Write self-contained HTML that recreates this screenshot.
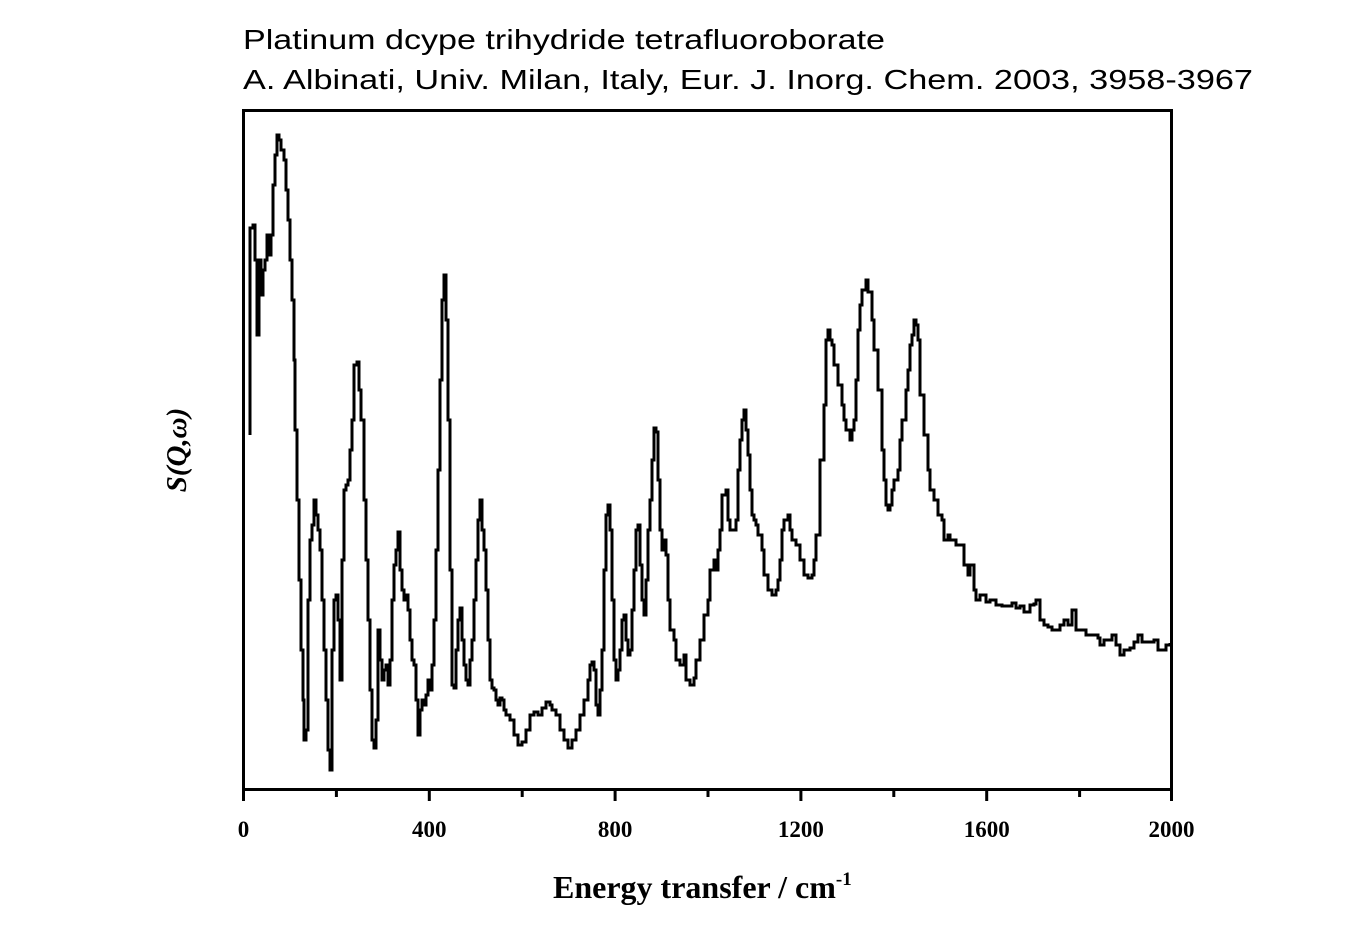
<!DOCTYPE html>
<html><head><meta charset="utf-8"><style>
body{margin:0;background:#fff;}
svg{display:block}
</style></head><body>
<svg width="1361" height="950" xmlns="http://www.w3.org/2000/svg">
<rect width="1361" height="950" fill="#fff"/>
<text x="243" y="49" font-family="Liberation Sans, sans-serif" font-size="28" textLength="642" lengthAdjust="spacingAndGlyphs">Platinum dcype trihydride tetrafluoroborate</text>
<text x="243" y="89" font-family="Liberation Sans, sans-serif" font-size="28" textLength="1010" lengthAdjust="spacingAndGlyphs">A. Albinati, Univ. Milan, Italy, Eur. J. Inorg. Chem. 2003, 3958-3967</text>
<rect x="243.5" y="110.5" width="928" height="679" fill="none" stroke="#000" stroke-width="3"/>
<g stroke="#000" stroke-width="3">
<line x1="243.5" y1="790" x2="243.5" y2="801"/><line x1="336.4" y1="790" x2="336.4" y2="797"/>
<line x1="429.3" y1="790" x2="429.3" y2="801"/><line x1="522.2" y1="790" x2="522.2" y2="797"/>
<line x1="615.1" y1="790" x2="615.1" y2="801"/><line x1="708" y1="790" x2="708" y2="797"/>
<line x1="800.9" y1="790" x2="800.9" y2="801"/><line x1="893.8" y1="790" x2="893.8" y2="797"/>
<line x1="986.7" y1="790" x2="986.7" y2="801"/><line x1="1079.6" y1="790" x2="1079.6" y2="797"/>
<line x1="1171.5" y1="790" x2="1171.5" y2="801"/>
</g>
<g font-family="Liberation Serif, serif" font-weight="bold" font-size="23" text-anchor="middle">
<text x="243.5" y="837">0</text><text x="429.3" y="837">400</text><text x="615.1" y="837">800</text>
<text x="800.9" y="837">1200</text><text x="986.7" y="837">1600</text><text x="1171.5" y="837">2000</text>
</g>
<text x="553" y="898" font-family="Liberation Serif, serif" font-weight="bold" font-size="32">Energy transfer / cm<tspan dy="-13" font-size="19">-1</tspan></text>
<text transform="translate(186,450) rotate(-90)" font-family="Liberation Serif, serif" font-weight="bold" font-style="italic" font-size="29" text-anchor="middle">S(Q,ω)</text>
<path fill="none" stroke="#000" stroke-width="3" stroke-linejoin="miter" d="M250,435 V228 H253 V225 H255 V260 H257 V335 H259 V260 H261 V295 H263 V270 H265 V260 H267 V235 H269 V255 H271 V235 H273 V185 H275 V155 H277 V135 H279 V140 H281 V150 H284 V160 H286 V190 H288 V220 H290 V260 H292 V300 H294 V360 H295 V430 H297 V500 H299 V580 H301 V650 H303 V700 H304 V740 H306 V730 H308 V600 H310 V540 H312 V525 H314 V500 H316 V515 H318 V530 H320 V550 H322 V600 H324 V650 H326 V700 H328 V750 H330 V770 H332 V650 H334 V600 H336 V595 H338 V620 H340 V680 H342 V560 H344 V490 H346 V485 H348 V480 H350 V450 H352 V420 H354 V365 H357 V362 H359 V390 H361 V420 H364 V500 H366 V560 H368 V620 H370 V690 H372 V740 H374 V748 H376 V720 H378 V630 H380 V660 H382 V680 H384 V670 H386 V665 H388 V685 H390 V660 H392 V600 H394 V565 H396 V550 H398 V532 H400 V570 H402 V590 H404 V600 H406 V595 H408 V610 H410 V640 H412 V660 H414 V665 H416 V700 H418 V735 H420 V710 H422 V700 H424 V705 H426 V695 H428 V680 H430 V690 H432 V665 H434 V620 H436 V550 H438 V470 H440 V380 H442 V300 H444 V275 H446 V320 H448 V420 H450 V570 H452 V685 H454 V688 H456 V650 H458 V620 H460 V608 H462 V640 H464 V665 H466 V680 H468 V685 H470 V660 H472 V640 H474 V600 H476 V560 H478 V520 H480 V500 H482 V530 H484 V550 H486 V590 H488 V640 H490 V680 H492 V688 H494 V690 H496 V700 H498 V705 H500 V698 H502 V700 H504 V710 H506 V715 H510 V720 H514 V735 H518 V745 H522 V742 H526 V730 H530 V715 H534 V712 H538 V715 H542 V708 H546 V702 H550 V705 H552 V710 H556 V715 H560 V730 H564 V740 H568 V748 H572 V740 H576 V730 H580 V715 H584 V700 H588 V680 H590 V665 H592 V662 H594 V670 H596 V705 H598 V715 H600 V690 H602 V650 H604 V570 H606 V515 H608 V505 H610 V530 H612 V600 H614 V660 H616 V680 H618 V670 H620 V650 H622 V620 H624 V615 H626 V640 H628 V655 H630 V650 H632 V610 H634 V570 H636 V530 H638 V525 H640 V565 H642 V600 H644 V615 H646 V580 H648 V530 H650 V500 H652 V460 H654 V428 H656 V432 H658 V480 H660 V530 H662 V550 H664 V540 H666 V555 H668 V600 H670 V630 H672 V630 H674 V640 H676 V660 H678 V660 H680 V665 H682 V665 H684 V655 H686 V680 H690 V685 H694 V678 H696 V660 H700 V640 H704 V615 H708 V600 H710 V570 H714 V560 H716 V570 H718 V550 H720 V530 H722 V495 H726 V490 H728 V520 H730 V530 H734 V530 H736 V520 H738 V470 H740 V440 H742 V420 H744 V410 H746 V430 H748 V455 H750 V490 H752 V515 H754 V520 H756 V525 H758 V535 H762 V550 H764 V575 H768 V590 H772 V595 H776 V590 H778 V580 H780 V560 H782 V530 H784 V520 H788 V515 H790 V530 H792 V540 H796 V545 H800 V560 H804 V575 H808 V578 H812 V575 H814 V560 H816 V535 H820 V460 H824 V405 H826 V340 H828 V330 H830 V340 H832 V345 H834 V365 H838 V385 H842 V405 H844 V420 H846 V430 H850 V440 H852 V430 H854 V420 H856 V380 H858 V330 H860 V305 H862 V290 H866 V280 H868 V292 H872 V320 H874 V350 H878 V390 H882 V450 H884 V480 H886 V505 H888 V510 H890 V505 H892 V490 H894 V480 H898 V470 H900 V440 H902 V420 H906 V390 H908 V370 H910 V345 H912 V335 H914 V320 H916 V325 H918 V340 H920 V395 H924 V435 H928 V470 H930 V490 H934 V500 H938 V515 H942 V520 H944 V540 H948 V535 H950 V540 H956 V545 H962 V545 H964 V565 H968 V575 H970 V565 H974 V590 H976 V600 H980 V595 H986 V602 H990 V600 H996 V605 H1002 V606 H1012 V603 H1016 V608 H1020 V606 H1024 V612 H1030 V605 H1034 V604 H1036 V600 H1040 V620 H1044 V625 H1048 V627 H1052 V630 H1060 V625 H1064 V620 H1068 V625 H1072 V610 H1076 V630 H1086 V635 H1098 V638 H1100 V645 H1104 V640 H1112 V635 H1116 V645 H1120 V655 H1124 V650 H1130 V648 H1134 V642 H1138 V635 H1142 V642 H1154 V640 H1158 V650 H1166 V645 H1170 V643"/>
</svg>
</body></html>
